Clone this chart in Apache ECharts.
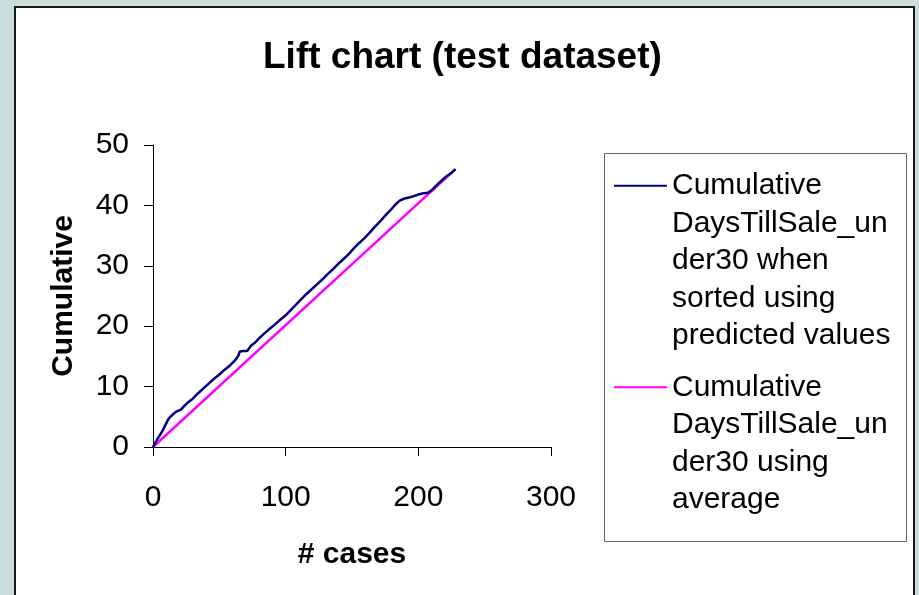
<!DOCTYPE html>
<html>
<head>
<meta charset="utf-8">
<script src="https://cdn.jsdelivr.net/npm/echarts@6/dist/echarts.min.js"></script>
<style>
  html, body { margin: 0; padding: 0; background: #cadede; }
  #frame { position: absolute; left: 14px; top: 6px; width: 897px; height: 600px; background: #ffffff; border: 2px solid #1a1a1a; }
  #chart { position: absolute; left: 0; top: 0; width: 919px; height: 595px; }
</style>
</head>
<body>
<div id="frame"></div>
<div id="chart"></div>
<script>
// ---- data ----
const titleText = 'Lift chart (test dataset)';
const xAxisTitle = '# cases';
const yAxisTitle = 'Cumulative';
const xTicks = [0, 100, 200, 300];
const yTicks = [0, 10, 20, 30, 40, 50];

const seriesNames = [
  'Cumulative DaysTillSale_under30 when sorted using predicted values',
  'Cumulative DaysTillSale_under30 using average'
];
const legendLines = [
  ['Cumulative', 'DaysTillSale_un', 'der30 when', 'sorted using', 'predicted values'],
  ['Cumulative', 'DaysTillSale_un', 'der30 using', 'average']
];

// cumulative (sorted by predicted values): [cases, cumulative]
const predictedCurve = [
  [0,0],[3,1.2],[5.3,2],[7.5,2.8],[9,3.5],[11.3,4.5],[13,5],[15.5,5.5],[18,5.9],[21,6.2],
  [24,6.9],[26.5,7.4],[30,8],[34,8.9],[38,9.7],[42,10.5],[46,11.3],[50,12],[54,12.8],[58,13.5],
  [62,14.4],[64,15],[65.5,15.8],[68,15.9],[71,15.9],[74,16.8],[77,17.3],[80,18],[83,18.6],[87,19.4],
  [91,20.1],[95.5,21],[100,21.8],[104,22.7],[108,23.6],[111,24.3],[115,25.2],[119,26],[123,26.8],[127,27.6],
  [131,28.5],[135,29.3],[139,30.2],[143,31],[147,31.8],[151,32.8],[155,33.7],[159,34.5],[163,35.4],[167,36.4],
  [171,37.3],[175,38.3],[179,39.2],[183,40.2],[186,40.8],[189,41.1],[193,41.3],[196,41.5],[200,41.8],[204,42],
  [207,42.1],[210,42.5],[213,43.2],[217,44],[221,44.8],[225,45.4],[228,46]
];
// cumulative using average: [cases, cumulative]
const averageCurve = [[0,0],[228,46]];

// ---- chart ----
const FONT = "'Liberation Sans', Arial, sans-serif";
const LH = 37.5;
const chart = echarts.init(document.getElementById('chart'), null, { renderer: 'canvas' });

function legendFor(i, top) {
  const n = legendLines[i].length;
  // leading empty lines keep the icon level with the first text line
  const lead = new Array(n - 1).fill('');
  return {
    data: [{ name: seriesNames[i], icon: 'rect' }],
    orient: 'vertical',
    left: 614,
    top: top,
    padding: 0,
    itemWidth: 53,
    itemHeight: 2,
    formatter: function () { return lead.concat(legendLines[i]).join('\n'); },
    textStyle: { fontFamily: FONT, fontSize: 30, lineHeight: LH, color: '#000' },
    selectedMode: false
  };
}

chart.setOption({
  animation: false,
  backgroundColor: 'transparent',
  title: {
    text: titleText,
    left: 263, top: 39, padding: 0,
    textStyle: { fontFamily: FONT, fontSize: 37, fontWeight: 'bold', color: '#000' }
  },
  legend: [legendFor(0, 17), legendFor(1, 256)],
  graphic: [{
    type: 'rect',
    shape: { x: 604.5, y: 153.5, width: 302, height: 388 },
    style: { fill: 'none', stroke: '#666', lineWidth: 1 },
    silent: true
  }],
  grid: { left: 153, top: 145, width: 398, height: 302, containLabel: false },
  xAxis: {
    type: 'value', min: xTicks[0], max: xTicks[xTicks.length - 1], interval: 100,
    name: xAxisTitle, nameLocation: 'middle', nameGap: 93,
    nameTextStyle: { fontFamily: FONT, fontSize: 30, fontWeight: 'bold', color: '#000', verticalAlign: 'top' },
    axisLine: { show: true, onZero: false, lineStyle: { color: '#000', width: 1 } },
    axisTick: { show: true, inside: false, length: 9, lineStyle: { color: '#000' } },
    axisLabel: { fontFamily: FONT, fontSize: 30, color: '#000', margin: 36 },
    splitLine: { show: false }
  },
  yAxis: {
    type: 'value', min: yTicks[0], max: yTicks[yTicks.length - 1], interval: 10,
    name: yAxisTitle, nameLocation: 'middle', nameGap: 74,
    nameTextStyle: { fontFamily: FONT, fontSize: 30, fontWeight: 'bold', color: '#000' },
    axisLine: { show: true, lineStyle: { color: '#000', width: 1 } },
    axisTick: { show: true, inside: false, length: 9, lineStyle: { color: '#000' } },
    axisLabel: { fontFamily: FONT, fontSize: 30, color: '#000', margin: 24 },
    splitLine: { show: false }
  },
  series: [
    {
      name: seriesNames[0], type: 'line', data: predictedCurve,
      symbol: 'none', lineStyle: { color: '#000080', width: 2.5 }, itemStyle: { color: '#000080' },
      z: 3
    },
    {
      name: seriesNames[1], type: 'line', data: averageCurve,
      symbol: 'none', lineStyle: { color: '#ff00ff', width: 2.5 }, itemStyle: { color: '#ff00ff' },
      z: 2
    }
  ]
});
</script>
</body>
</html>
